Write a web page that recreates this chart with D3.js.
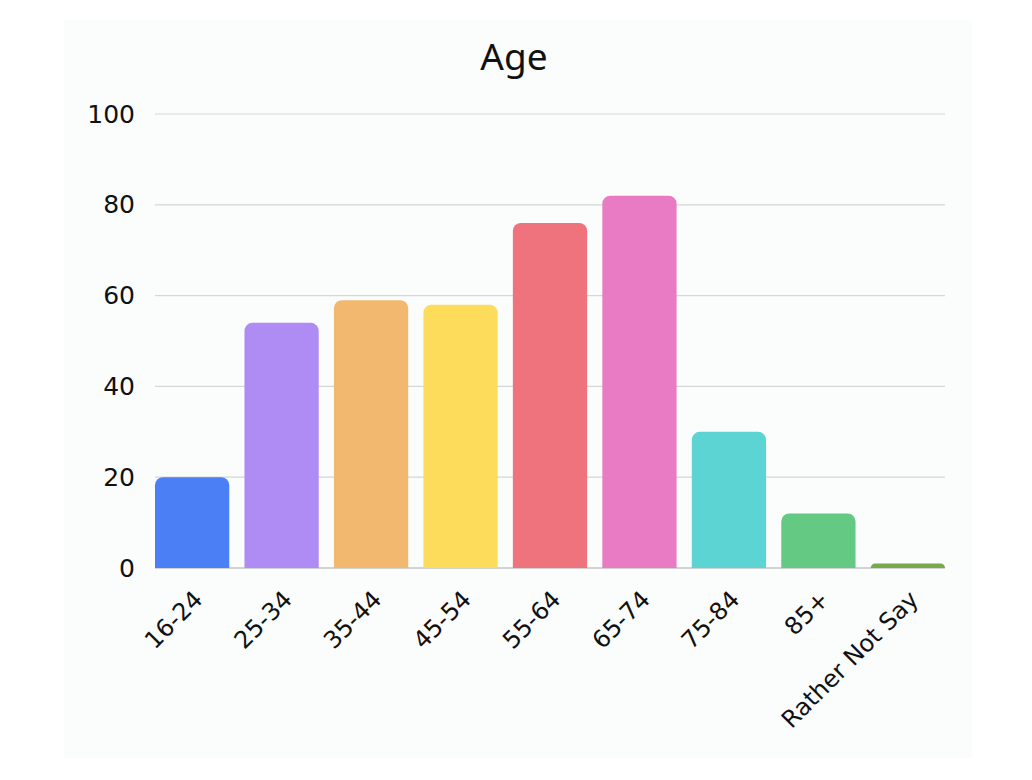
<!DOCTYPE html>
<html><head><meta charset="utf-8">
<script src="https://cdn.jsdelivr.net/npm/d3@7"></script>
<style>html,body{margin:0;padding:0;background:#fff;}</style>
</head><body>
<svg id="c" width="1032" height="780"></svg>
<script>
const categories = ["16-24","25-34","35-44","45-54","55-64","65-74","75-84","85+","Rather Not Say"];
const values = [20, 54, 59, 58, 76, 82, 30, 12, 1];
const colors = ["#4a7ff5","#ae8cf3","#f2b86f","#fedc5b","#ee737c","#e87bc4","#5dd4d4","#64c983","#76a84c"];
const yTicks = [0, 20, 40, 60, 80, 100];

const svg = d3.select("#c");
svg.append("rect").attr("x",64).attr("y",20).attr("width",908).attr("height",738).attr("fill","#fbfcfc");

const x = d3.scaleBand().domain(categories).range([155, 945]).paddingInner(0.17).paddingOuter(0);
const y = d3.scaleLinear().domain([0, 100]).range([568, 114]);

const font = "'DejaVu Sans', 'Open Sans', sans-serif";

svg.append("text").attr("x",514).attr("y",70).attr("text-anchor","middle")
  .attr("font-family","'Noto Sans', 'Open Sans', sans-serif").attr("font-size",37).attr("fill","#111").text("Age");

const yAxis = d3.axisLeft(y).tickValues(yTicks).tickSize(0).tickPadding(0);
const ga = svg.append("g").attr("transform","translate(135,0)").call(yAxis);
ga.select(".domain").remove();
ga.selectAll("text").attr("font-family",font).attr("font-size",25).attr("fill","#111").attr("text-anchor","end");

svg.append("g").selectAll("line").data(yTicks).join("line")
  .attr("x1",155).attr("x2",945).attr("y1",d=>y(d)).attr("y2",d=>y(d))
  .attr("stroke",d=>d===0?"#aaa":"#d6d6d6").attr("stroke-width",1.2);

function topRounded(x0, y0, w, h, r) {
  r = Math.min(r, h, w/2);
  const p = d3.path();
  p.moveTo(x0, y0 + h);
  p.lineTo(x0, y0 + r);
  p.arcTo(x0, y0, x0 + r, y0, r);
  p.lineTo(x0 + w - r, y0);
  p.arcTo(x0 + w, y0, x0 + w, y0 + r, r);
  p.lineTo(x0 + w, y0 + h);
  p.closePath();
  return p.toString();
}

svg.append("g").selectAll("path").data(categories).join("path")
  .attr("d",(c,i)=>topRounded(x(c), y(values[i]), x.bandwidth(), y(0)-y(values[i]), 8))
  .attr("fill",(c,i)=>colors[i]);

const xAxis = d3.axisBottom(x).tickSize(0).tickPadding(0);
const gx = svg.append("g").attr("transform","translate(0,568)").call(xAxis);
gx.select(".domain").remove();
gx.selectAll("text").attr("font-family",font).attr("font-size",24).attr("fill","#111")
  .attr("text-anchor","end").attr("dy",0)
  .attr("transform","translate(12,33) rotate(-45)");
</script>
</body></html>
